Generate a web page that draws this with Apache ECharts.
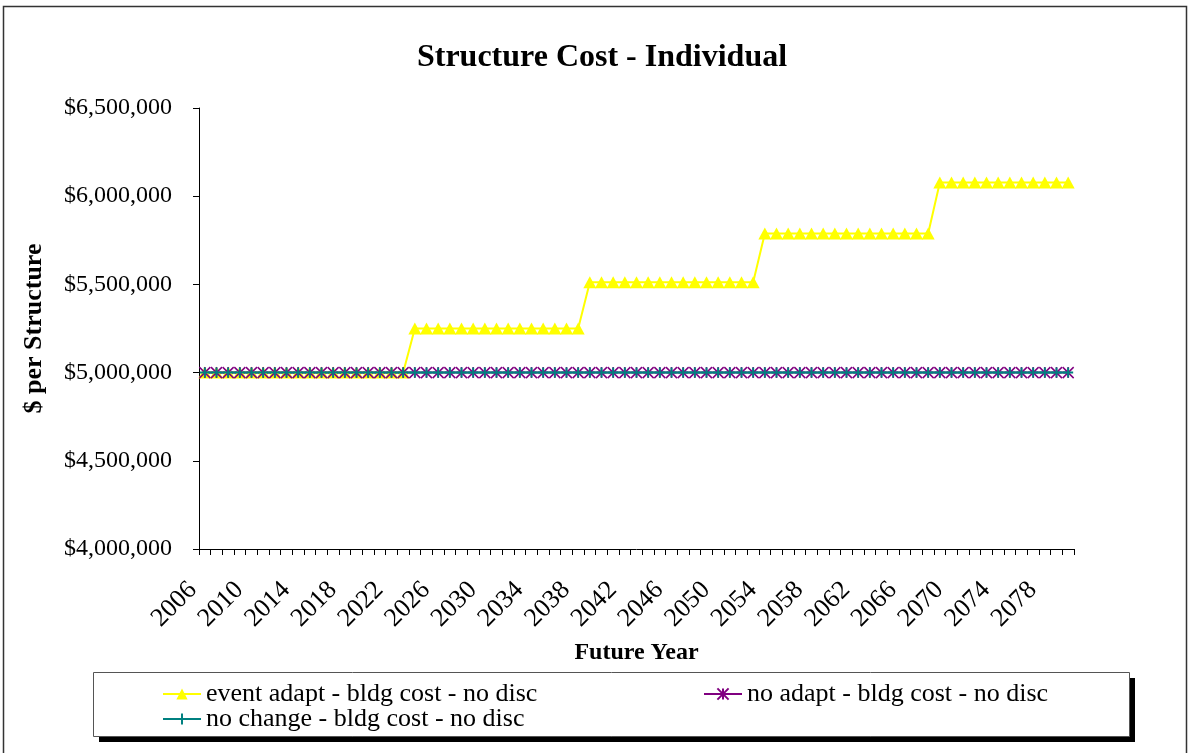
<!DOCTYPE html>
<html>
<head>
<meta charset="utf-8">
<title>Structure Cost - Individual</title>
<script src="https://cdn.jsdelivr.net/npm/echarts@6/dist/echarts.min.js"></script>
<style>
  html, body { margin: 0; padding: 0; background: #fff; }
  #chart { width: 1190px; height: 753px; }
</style>
</head>
<body>
<div id="chart"></div>
<script>
// Future years on the category axis
var years = [
  '2006','2007','2008','2009','2010','2011','2012','2013','2014','2015',
  '2016','2017','2018','2019','2020','2021','2022','2023','2024','2025',
  '2026','2027','2028','2029','2030','2031','2032','2033','2034','2035',
  '2036','2037','2038','2039','2040','2041','2042','2043','2044','2045',
  '2046','2047','2048','2049','2050','2051','2052','2053','2054','2055',
  '2056','2057','2058','2059','2060','2061','2062','2063','2064','2065',
  '2066','2067','2068','2069','2070','2071','2072','2073','2074','2075',
  '2076','2077','2078','2079','2080'
];

// Building cost per structure, undiscounted ($)
var eventAdapt = [
  5000000,5000000,5000000,5000000,5000000,5000000,5000000,5000000,5000000,5000000,
  5000000,5000000,5000000,5000000,5000000,5000000,5000000,5000000,5250000,5250000,
  5250000,5250000,5250000,5250000,5250000,5250000,5250000,5250000,5250000,5250000,
  5250000,5250000,5250000,5512500,5512500,5512500,5512500,5512500,5512500,5512500,
  5512500,5512500,5512500,5512500,5512500,5512500,5512500,5512500,5788125,5788125,
  5788125,5788125,5788125,5788125,5788125,5788125,5788125,5788125,5788125,5788125,
  5788125,5788125,5788125,6077531,6077531,6077531,6077531,6077531,6077531,6077531,
  6077531,6077531,6077531,6077531,6077531
];
var noAdapt = [
  5000000,5000000,5000000,5000000,5000000,5000000,5000000,5000000,5000000,5000000,
  5000000,5000000,5000000,5000000,5000000,5000000,5000000,5000000,5000000,5000000,
  5000000,5000000,5000000,5000000,5000000,5000000,5000000,5000000,5000000,5000000,
  5000000,5000000,5000000,5000000,5000000,5000000,5000000,5000000,5000000,5000000,
  5000000,5000000,5000000,5000000,5000000,5000000,5000000,5000000,5000000,5000000,
  5000000,5000000,5000000,5000000,5000000,5000000,5000000,5000000,5000000,5000000,
  5000000,5000000,5000000,5000000,5000000,5000000,5000000,5000000,5000000,5000000,
  5000000,5000000,5000000,5000000,5000000
];
var noChange = [
  5000000,5000000,5000000,5000000,5000000,5000000,5000000,5000000,5000000,5000000,
  5000000,5000000,5000000,5000000,5000000,5000000,5000000,5000000,5000000,5000000,
  5000000,5000000,5000000,5000000,5000000,5000000,5000000,5000000,5000000,5000000,
  5000000,5000000,5000000,5000000,5000000,5000000,5000000,5000000,5000000,5000000,
  5000000,5000000,5000000,5000000,5000000,5000000,5000000,5000000,5000000,5000000,
  5000000,5000000,5000000,5000000,5000000,5000000,5000000,5000000,5000000,5000000,
  5000000,5000000,5000000,5000000,5000000,5000000,5000000,5000000,5000000,5000000,
  5000000,5000000,5000000,5000000,5000000
];

var seriesNames = [
  'event adapt - bldg cost - no disc',
  'no adapt - bldg cost - no disc',
  'no change - bldg cost - no disc'
];

var FONT = '"Liberation Serif", "Times New Roman", serif';

// Stroked marker shapes
var starPath = 'path://M5,0 L5,10 M0,0 L10,10 M10,0 L0,10';
var plusPath = 'path://M0,5 L10,5 M5,0 L5,10';

var chart = echarts.init(document.getElementById('chart'), null, { renderer: 'canvas' });

var legendText = { fontFamily: FONT, fontSize: 26, color: '#000' };

function legendFor(name, left, top) {
  return {
    data: [name], left: left, top: top,
    itemWidth: 38, itemHeight: 14, itemGap: 0,
    textStyle: legendText, selectedMode: false
  };
}

chart.setOption({
  backgroundColor: '#fff',
  animation: false,
  title: {
    text: 'Structure Cost - Individual',
    left: 597,
    top: 37,
    textAlign: 'center',
    textStyle: { fontFamily: FONT, fontSize: 32, fontWeight: 'bold', color: '#000' }
  },
  graphic: [
    {
      type: 'rect',
      shape: { x: 3.5, y: 6.5, width: 1183, height: 760 },
      style: { fill: 'none', stroke: '#333', lineWidth: 1.5 },
      silent: true, z: -10
    },
    {
      // legend drop shadow
      type: 'rect',
      shape: { x: 99, y: 678, width: 1036, height: 64 },
      style: { fill: '#000' },
      silent: true, z: -6
    },
    {
      type: 'rect',
      shape: { x: 93.5, y: 672.5, width: 1036, height: 64 },
      style: { fill: '#fff', stroke: '#555', lineWidth: 1 },
      silent: true, z: -5
    }
  ],
  legend: [
    legendFor(seriesNames[0], 157, 676),
    legendFor(seriesNames[1], 698, 676),
    legendFor(seriesNames[2], 157, 701)
  ],
  grid: { left: 199, right: 116, top: 108, bottom: 204, containLabel: false },
  xAxis: {
    type: 'category',
    data: years,
    boundaryGap: true,
    name: 'Future Year',
    nameLocation: 'middle',
    nameGap: 92,
    nameTextStyle: { fontFamily: FONT, fontSize: 24, fontWeight: 'bold', color: '#000' },
    axisLine: { lineStyle: { color: '#000', width: 1 } },
    axisTick: { show: true, interval: 0, length: 6, inside: false, lineStyle: { color: '#000' } },
    axisLabel: {
      interval: 3, rotate: 45, margin: 25,
      padding: [0, 17, 0, 0],
      fontFamily: FONT, fontSize: 26, color: '#000'
    },
    splitLine: { show: false }
  },
  yAxis: {
    type: 'value',
    min: 4000000,
    max: 6500000,
    interval: 500000,
    name: '$ per Structure',
    nameLocation: 'middle',
    nameGap: 152,
    nameRotate: 90,
    nameTextStyle: { fontFamily: FONT, fontSize: 26, fontWeight: 'bold', color: '#000' },
    axisLine: { show: true, lineStyle: { color: '#000', width: 1 } },
    axisTick: { show: true, length: 6, lineStyle: { color: '#000' } },
    axisLabel: {
      margin: 27,
      fontFamily: FONT, fontSize: 24, color: '#000',
      formatter: function (v) { return '$' + v.toLocaleString('en-US'); }
    },
    splitLine: { show: false }
  },
  series: [
    {
      name: seriesNames[0],
      type: 'line',
      data: eventAdapt,
      symbol: 'triangle',
      symbolSize: [13, 12],
      showAllSymbol: true,
      lineStyle: { color: '#FFFF00', width: 2 },
      itemStyle: { color: '#FFFF00' }
    },
    {
      name: seriesNames[1],
      type: 'line',
      data: noAdapt,
      symbol: starPath,
      symbolSize: 11,
      showAllSymbol: true,
      lineStyle: { color: '#800080', width: 2 },
      itemStyle: { color: '#800080', borderColor: '#800080', borderWidth: 1.5 }
    },
    {
      name: seriesNames[2],
      type: 'line',
      data: noChange,
      symbol: plusPath,
      symbolSize: 10,
      showAllSymbol: true,
      lineStyle: { color: '#008080', width: 2 },
      itemStyle: { color: '#008080', borderColor: '#008080', borderWidth: 2 }
    }
  ]
});
</script>
</body>
</html>
